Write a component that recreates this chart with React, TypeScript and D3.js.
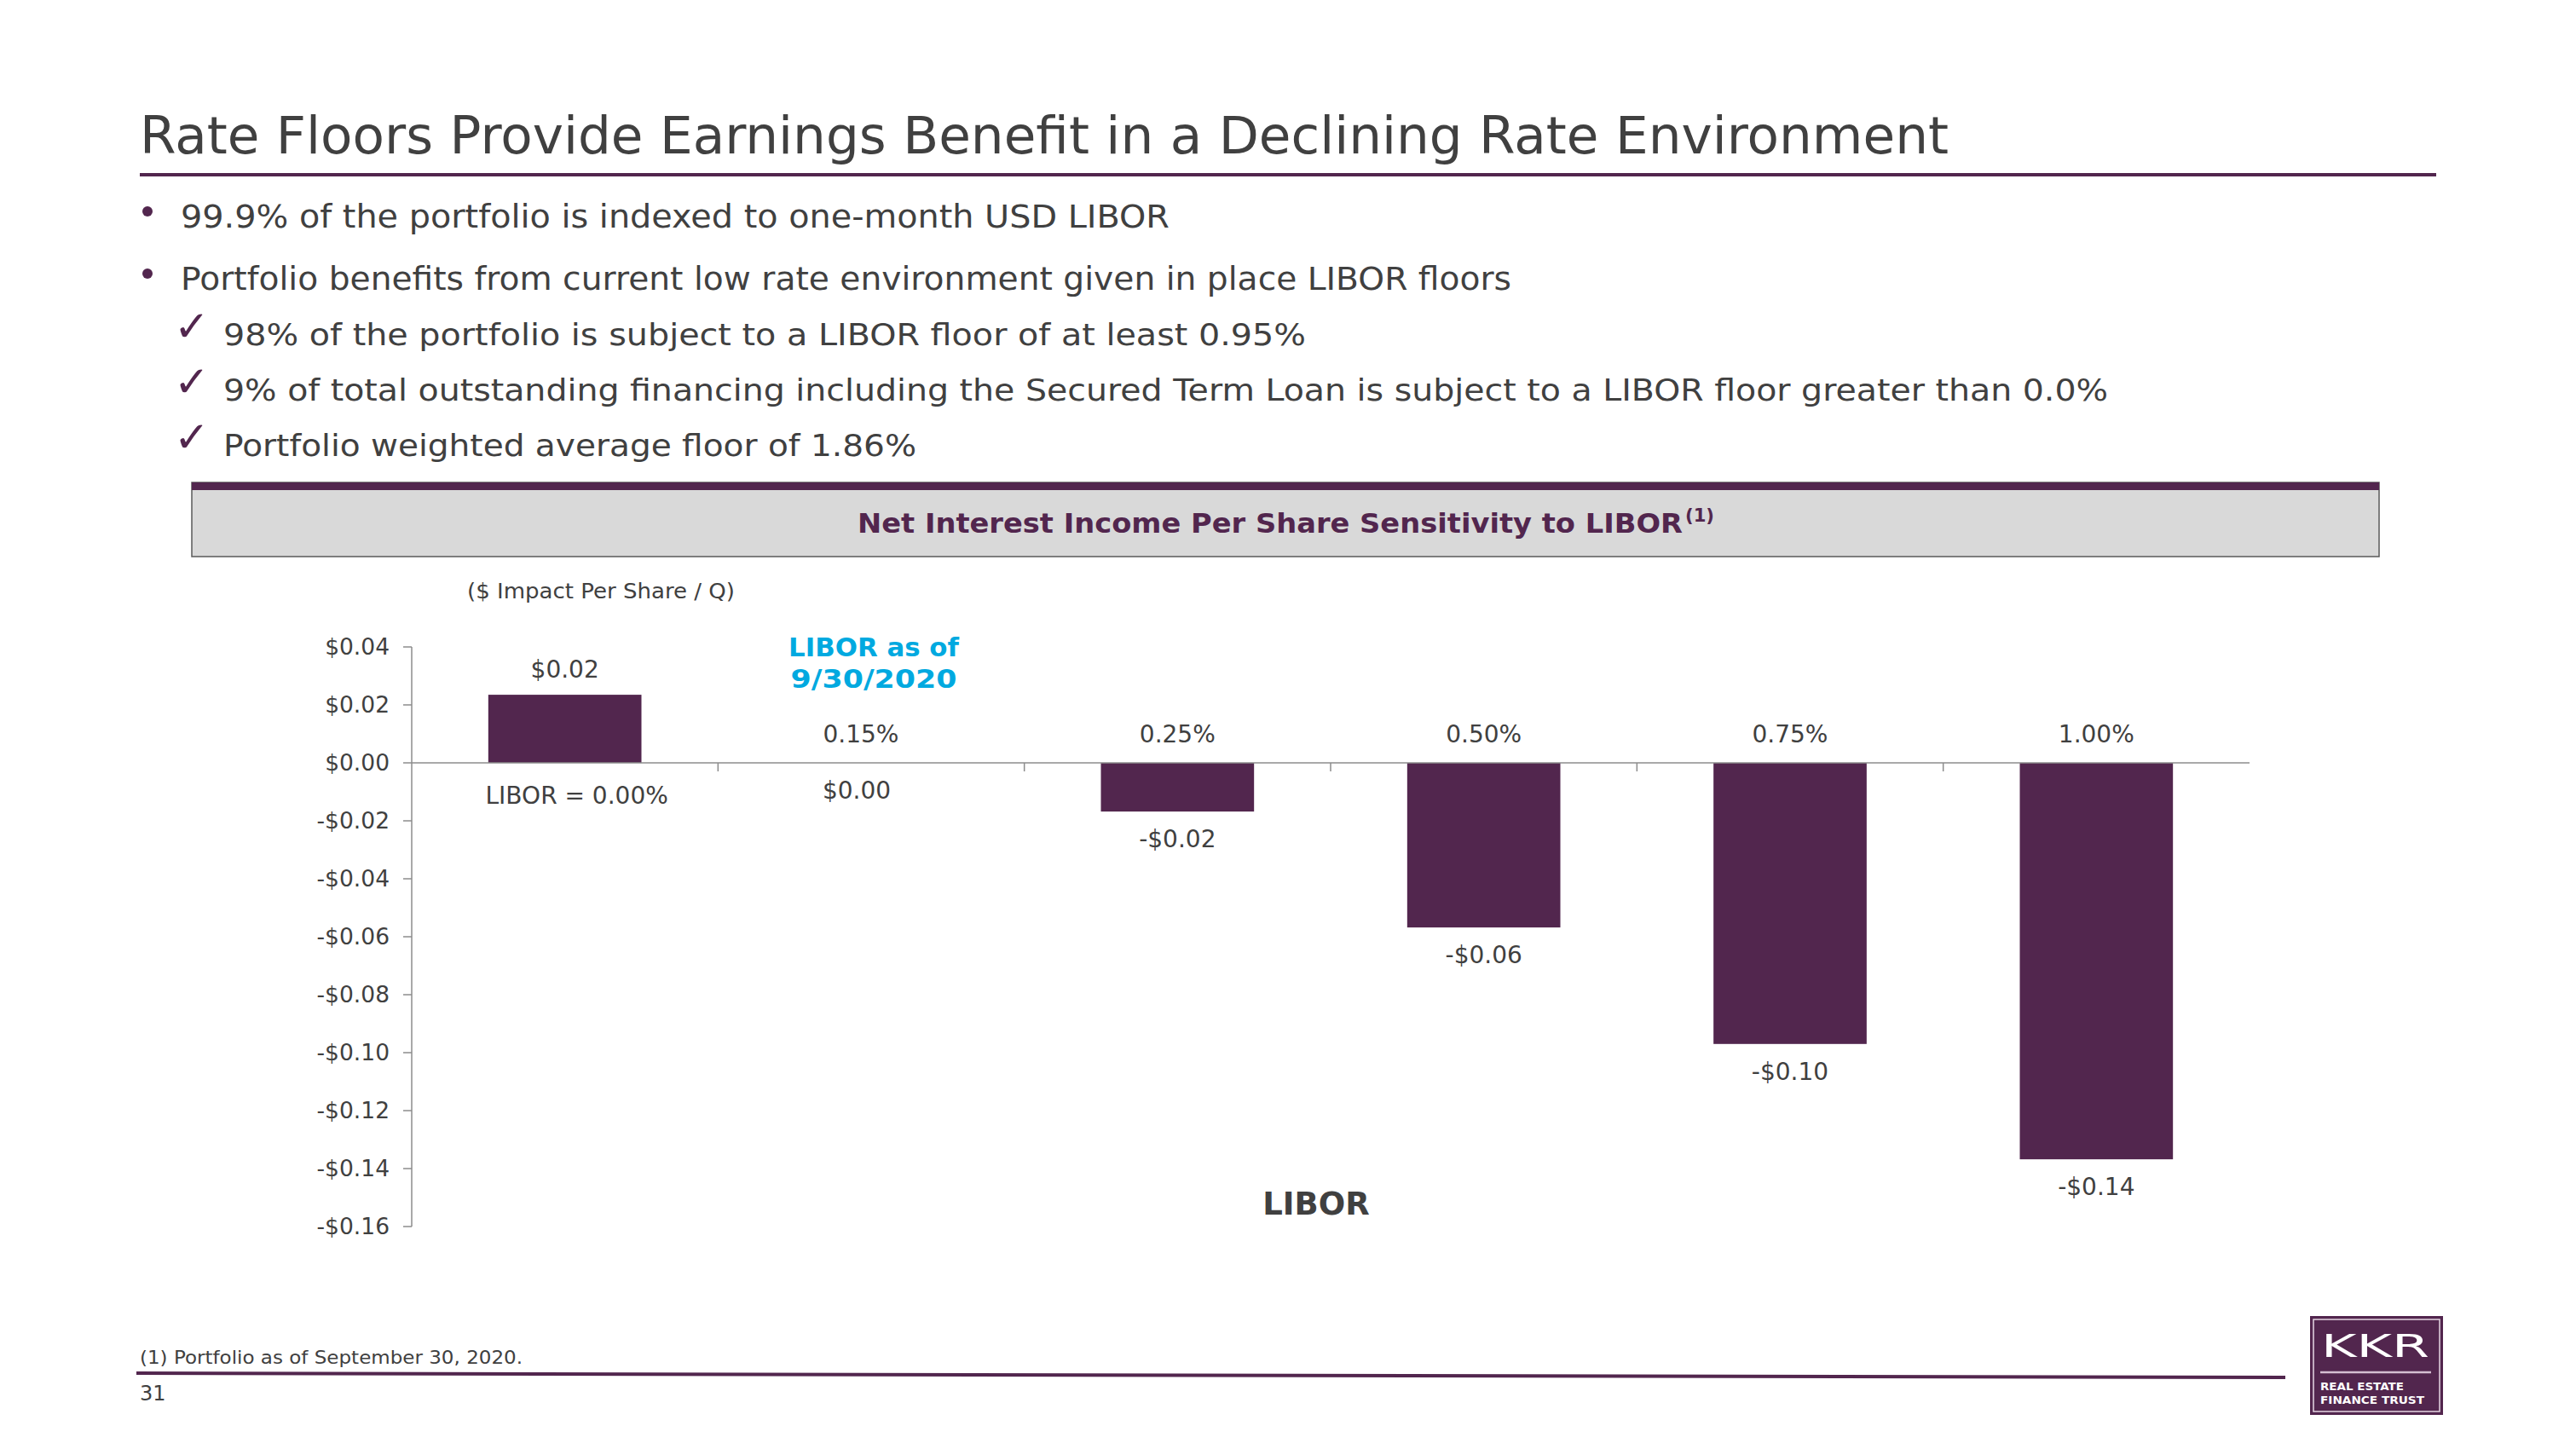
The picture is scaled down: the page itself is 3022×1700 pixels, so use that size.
import React from "react";
import * as d3 from "d3";

const categories = ["LIBOR = 0.00%", "0.15%", "0.25%", "0.50%", "0.75%", "1.00%"];
const values = [0.0235, 0.0, -0.0168, -0.0568, -0.097, -0.1368];
const valueLabels = ["$0.02", "$0.00", "-$0.02", "-$0.06", "-$0.10", "-$0.14"];
const yTicks = [0.04, 0.02, 0.0, -0.02, -0.04, -0.06, -0.08, -0.1, -0.12, -0.14, -0.16];
const bullets = [
  "99.9% of the portfolio is indexed to one-month USD LIBOR",
  "Portfolio benefits from current low rate environment given in place LIBOR floors",
];
const bulletWidths = [1160, 1561];
const checks = [
  "98% of the portfolio is subject to a LIBOR floor of at least 0.95%",
  "9% of total outstanding financing including the Secured Term Loan is subject to a LIBOR floor greater than 0.0%",
  "Portfolio weighted average floor of 1.86%",
];
const checkWidths = [1270, 2211, 813];

const PURPLE = "#52264E";
const TEXT = "#404040";
const AXIS = "#8C8C8C";
const FONT = "'DejaVu Sans', Verdana, sans-serif";

const fmtTick = (d: number) => {
  const a = Math.abs(d).toFixed(2);
  return d < -1e-9 ? `-$${a}` : `$${a}`;
};

export default function App() {
  const x = d3
    .scaleBand<string>()
    .domain(categories)
    .range([483, 2639])
    .paddingInner(0.5)
    .paddingOuter(0.25);
  const y = d3.scaleLinear().domain([-0.16, 0.04]).range([1439, 759]);
  const y0 = y(0);
  const step = x.step();
  const boundaries = categories.slice(1).map((c) => (x(c) as number) - step * 0.25);
  const SA = "spacingAndGlyphs";

  return (
    <svg
      width={3022}
      height={1700}
      viewBox="0 0 3022 1700"
      style={{ position: "absolute", left: 0, top: 0, background: "#fff" }}
      fontFamily={FONT}
    >
      <rect x={0} y={0} width={3022} height={1700} fill="#fff" />
      {/* Title */}
      <text x={164} y={180} fontSize={61} fill={TEXT} textLength={2122} lengthAdjust={SA}>
        Rate Floors Provide Earnings Benefit in a Declining Rate Environment
      </text>
      <line x1={164} x2={2858} y1={205} y2={205} stroke={PURPLE} strokeWidth={4} />

      {/* Bullets */}
      {bullets.map((b, i) => (
        <g key={b}>
          <circle cx={173} cy={248 + i * 73} r={6} fill={PURPLE} />
          <text x={212} y={267 + i * 73} fontSize={37} fill={TEXT} textLength={bulletWidths[i]} lengthAdjust={SA}>
            {b}
          </text>
        </g>
      ))}
      {checks.map((c, i) => (
        <g key={c}>
          <text x={204} y={400 + i * 65} fontSize={50} fill={PURPLE}>
            ✓
          </text>
          <text x={262} y={405 + i * 65} fontSize={36} fill={TEXT} textLength={checkWidths[i]} lengthAdjust={SA}>
            {c}
          </text>
        </g>
      ))}

      {/* Chart header box */}
      <rect x={225} y={566} width={2566} height={87} fill="#D9D9D9" stroke="#595959" strokeWidth={1.5} />
      <rect x={225} y={566} width={2566} height={9} fill={PURPLE} />
      <text x={1006} y={625} fontSize={32} fontWeight="bold" fill={PURPLE} textLength={968} lengthAdjust={SA}>
        Net Interest Income Per Share Sensitivity to LIBOR
      </text>
      <text x={1977} y={612} fontSize={21} fontWeight="bold" fill={PURPLE} textLength={34} lengthAdjust={SA}>
        (1)
      </text>

      <text x={548} y={702} fontSize={25} fill={TEXT} textLength={314} lengthAdjust={SA}>
        ($ Impact Per Share / Q)
      </text>

      {/* Bars */}
      {values.map((v, i) => {
        const bx = x(categories[i]) as number;
        const top = Math.min(y(v), y0);
        const h = Math.abs(y(v) - y0);
        return <rect key={i} x={bx} y={top} width={x.bandwidth()} height={h} fill={PURPLE} />;
      })}

      {/* Y axis */}
      <line x1={483} x2={483} y1={y(0.04)} y2={y(-0.16)} stroke={AXIS} strokeWidth={1.5} />
      {yTicks.map((t) => (
        <g key={t}>
          <line x1={473} x2={483} y1={y(t)} y2={y(t)} stroke={AXIS} strokeWidth={1.5} />
          <text x={457} y={y(t) + 9} fontSize={26.5} fill={TEXT} textAnchor="end">
            {fmtTick(t)}
          </text>
        </g>
      ))}

      {/* X axis */}
      <line x1={483} x2={2639} y1={y0} y2={y0} stroke={AXIS} strokeWidth={1.5} />
      {boundaries.map((b, i) => (
        <line key={i} x1={b} x2={b} y1={y0} y2={y0 + 10} stroke={AXIS} strokeWidth={1.5} />
      ))}

      {/* Category labels */}
      {categories.map((c, i) => {
        const cx = (x(c) as number) + x.bandwidth() / 2;
        const v = values[i];
        const dx = i === 0 ? 14 : i === 1 ? -12 : 0;
        return (
          <text key={c} x={cx + dx} y={v > 0 ? y0 + 48 : y0 - 24} fontSize={28} fill={TEXT} textAnchor="middle">
            {c}
          </text>
        );
      })}

      {/* Value labels */}
      {values.map((v, i) => {
        const cx = (x(categories[i]) as number) + x.bandwidth() / 2;
        const ly = v > 0 ? y(v) - 20 : y(v) + 42;
        const dx = i === 1 ? -17 : 0;
        return (
          <text key={i} x={cx + dx} y={ly} fontSize={28} fill={TEXT} textAnchor="middle">
            {valueLabels[i]}
          </text>
        );
      })}

      {/* LIBOR as of annotation */}
      <text x={1025} y={770} fontSize={30} fontWeight="bold" fill="#00A9E0" textAnchor="middle" textLength={200} lengthAdjust={SA}>
        LIBOR as of
      </text>
      <text x={1025} y={807} fontSize={30} fontWeight="bold" fill="#00A9E0" textAnchor="middle" textLength={195} lengthAdjust={SA}>
        9/30/2020
      </text>

      {/* X axis title */}
      <text x={1544} y={1425} fontSize={37} fontWeight="bold" fill={TEXT} textAnchor="middle">
        LIBOR
      </text>

      {/* Footer */}
      <text x={164} y={1600} fontSize={21} fill={TEXT} textLength={449} lengthAdjust={SA}>
        (1)  Portfolio as of September 30, 2020.
      </text>
      <line x1={160} x2={2681} y1={1611} y2={1616} stroke={PURPLE} strokeWidth={4} />
      <text x={164} y={1643} fontSize={24} fill={TEXT}>
        31
      </text>

      {/* Logo */}
      <rect x={2710} y={1544} width={156} height={116} fill={PURPLE} />
      <rect x={2714} y={1548} width={148} height={108} fill="none" stroke="#E6D6E3" strokeWidth={1.5} />
      <text x={2723} y={1592} fontSize={38} fill="#fff" textLength={127} lengthAdjust={SA}>
        KKR
      </text>
      <line x1={2722} x2={2852} y1={1610} y2={1610} stroke="#D5BFD2" strokeWidth={2.5} />
      <text x={2722} y={1631} fontSize={13} fontWeight="bold" fill="#fff" textLength={98} lengthAdjust={SA}>
        REAL ESTATE
      </text>
      <text x={2722} y={1647} fontSize={13} fontWeight="bold" fill="#fff" textLength={122} lengthAdjust={SA}>
        FINANCE TRUST
      </text>
    </svg>
  );
}
